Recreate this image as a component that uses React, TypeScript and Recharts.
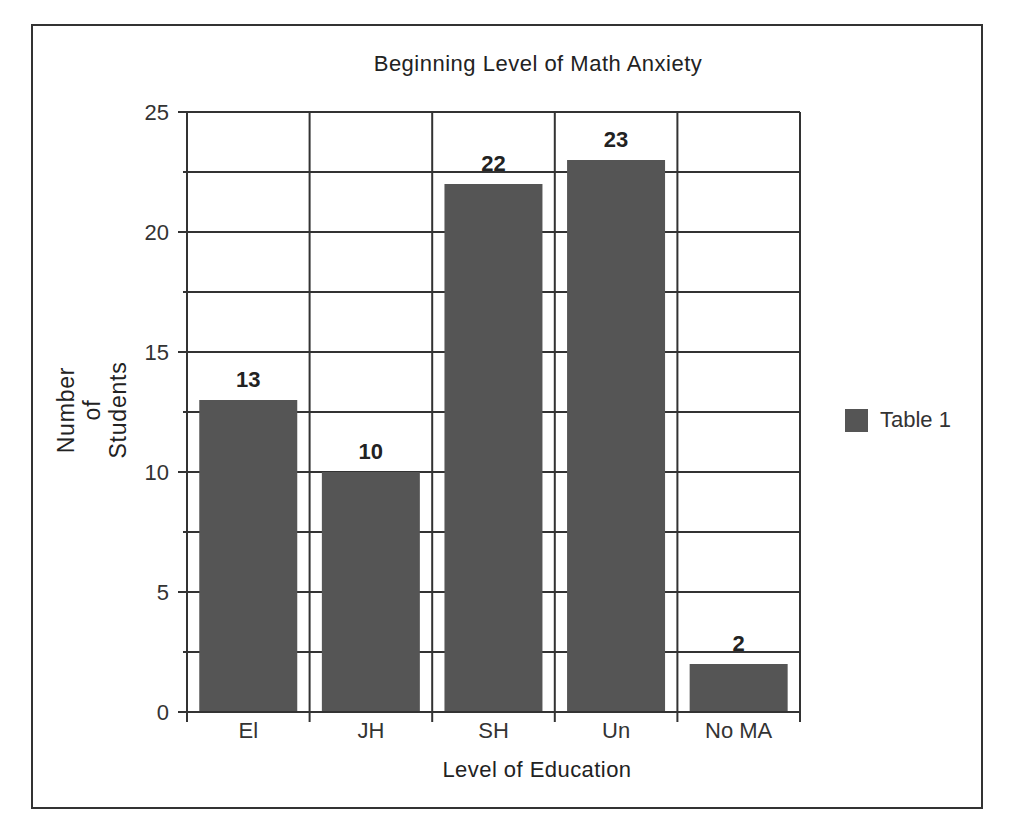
import { BarChart, Bar, XAxis, YAxis, CartesianGrid, Legend, LabelList } from "recharts";

const categories = ["El", "JH", "SH", "Un", "No MA"];
const students = [13, 10, 22, 23, 2];
const yTicks = [0, 2.5, 5, 7.5, 10, 12.5, 15, 17.5, 20, 22.5, 25];
const seriesName = "Table 1";

const data = categories.map((name, i) => ({ name, value: students[i] }));

const FONT = '"Liberation Sans", Arial, sans-serif';
const INK = "#333";

// vertical grid lines sit on the category boundaries, not the centres
const boundaryLines = ({ xAxis }: any) => {
  try {
    const s = xAxis && xAxis.scale;
    if (!s || typeof s.range !== "function") return [];
    const [a, b] = s.range();
    const step = (b - a) / categories.length;
    return [0, ...categories.map((_, i) => i + 1)].map((i) => a + i * step);
  } catch (e) {
    return [];
  }
};

const YTick = (props: any) => {
  const { x, y, payload } = props;
  const axisX = x + 18;
  const major = payload.value % 5 === 0;
  return (
    <g>
      <line x1={axisX - (major ? 9 : 4)} x2={axisX} y1={y} y2={y} stroke={INK} strokeWidth={2} />
      {major && (
        <text x={x} y={y} dy="0.35em" textAnchor="end" fill={INK} fontSize={22}>
          {payload.value}
        </text>
      )}
    </g>
  );
};

const XTick = (props: any) => {
  const { x, y, payload, index, visibleTicksCount } = props;
  const half = payload.offset || 0;
  const axisY = y - 10;
  const last = index === visibleTicksCount - 1;
  return (
    <g>
      <line x1={x - half} x2={x - half} y1={axisY} y2={axisY + 10} stroke={INK} strokeWidth={2} />
      {last && <line x1={x + half} x2={x + half} y1={axisY} y2={axisY + 10} stroke={INK} strokeWidth={2} />}
      <text x={x} y={y} dy="0.71em" textAnchor="middle" fill={INK} fontSize={22}>
        {payload.value}
      </text>
    </g>
  );
};

const LegendBox = (props: any) => (
  <div>
    {(props.payload || []).map((p: any) => (
      <div key={p.value} style={{ display: "flex", alignItems: "center" }}>
        <div style={{ width: 23, height: 23, background: p.color }} />
        <span style={{ marginLeft: 12, fontSize: 22, color: INK }}>{p.value}</span>
      </div>
    ))}
  </div>
);

export default function App() {
  return (
    <div style={{ position: "absolute", left: 0, top: 0, width: 1024, height: 831, fontFamily: FONT }}>
      <div
        style={{
          position: "absolute",
          left: 31,
          top: 24,
          width: 952,
          height: 785,
          border: "2px solid #333",
          boxSizing: "border-box",
        }}
      />
      <div
        style={{
          position: "absolute",
          left: 338,
          top: 53,
          width: 400,
          textAlign: "center",
          fontSize: 22,
          lineHeight: "22px",
          letterSpacing: 0.5,
          color: "#222",
        }}
      >
        Beginning Level of Math Anxiety
      </div>
      <div
        style={{
          position: "absolute",
          left: 337,
          top: 759,
          width: 400,
          textAlign: "center",
          fontSize: 22,
          lineHeight: "22px",
          letterSpacing: 0.45,
          color: "#222",
        }}
      >
        Level of Education
      </div>
      <div
        style={{
          position: "absolute",
          left: -8,
          top: 371,
          width: 200,
          height: 78,
          textAlign: "center",
          fontSize: 23,
          lineHeight: "26px",
          letterSpacing: 0.8,
          color: "#222",
          transform: "rotate(-90deg)",
        }}
      >
        Number
        <br />
        of
        <br />
        Students
      </div>
      <div style={{ position: "absolute", left: 0, top: 0 }}>
        <BarChart
          width={1024}
          height={831}
          data={data}
          margin={{ top: 112, right: 224, bottom: 79, left: 127 }}
          barCategoryGap="10%"
        >
          <CartesianGrid stroke={INK} strokeWidth={2} verticalCoordinatesGenerator={boundaryLines} />
          <XAxis
            dataKey="name"
            interval={0}
            axisLine={{ stroke: INK, strokeWidth: 2 }}
            tickLine={false}
            tickSize={0}
            tickMargin={10}
            height={40}
            tick={<XTick />}
          />
          <YAxis
            domain={[0, 25]}
            ticks={yTicks}
            interval={0}
            width={60}
            tickSize={8}
            tickMargin={10}
            tickLine={false}
            axisLine={{ stroke: INK, strokeWidth: 2 }}
            tick={<YTick />}
          />
          <Legend
            layout="vertical"
            align="center"
            verticalAlign="middle"
            wrapperStyle={{ left: 845, top: 407, width: "auto" }}
            content={<LegendBox />}
          />
          <Bar dataKey="value" name={seriesName} fill="#555555" isAnimationActive={false}>
            <LabelList
              dataKey="value"
              position="top"
              offset={13}
              style={{ fontSize: 22, fontWeight: "bold", fill: "#222" }}
            />
          </Bar>
        </BarChart>
      </div>
    </div>
  );
}
